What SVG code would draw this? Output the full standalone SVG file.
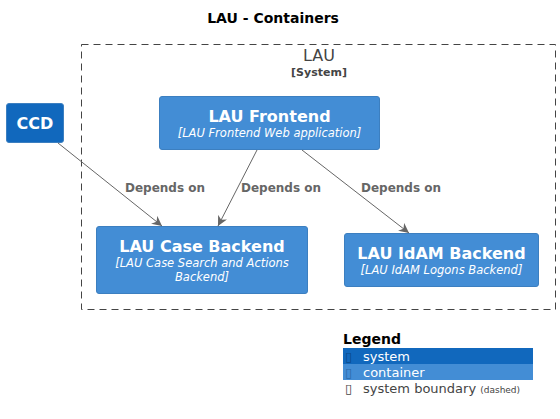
<svg xmlns="http://www.w3.org/2000/svg" width="560" height="419" viewBox="0 0 560 419">
<style>
text{font-family:"DejaVu Sans","Liberation Sans",sans-serif}
.t{font-size:16px;font-weight:bold;fill:#fff;text-anchor:middle}
.s{font-size:11.5px;font-style:italic;fill:#fff;text-anchor:middle}
.lbl{font-size:12px;font-weight:bold;fill:#666}
.edge{stroke:#666;stroke-width:1;fill:none}
.cont{fill:#438dd5;stroke:#3c7fc0;stroke-width:1}
.sys{fill:#1168bd;stroke:#3c7fc0;stroke-width:1}
.leg{font-size:13px}
</style>
<defs>
<marker id="ah" viewBox="0 0 10 10" refX="10" refY="5" markerWidth="10" markerHeight="10" markerUnits="userSpaceOnUse" orient="auto">
<path d="M0,0 L10,5 L0,10 L3,5 Z" fill="#666"/>
</marker>
</defs>
<rect width="560" height="419" fill="#fff"/>
<text x="273" y="23" text-anchor="middle" style="font-size:14px;font-weight:bold;fill:#000">LAU - Containers</text>
<g id="boundary">
<rect x="81.5" y="44.5" width="474" height="265" fill="none" stroke="#444" stroke-width="1" stroke-dasharray="7,5"/>
<text x="319" y="61" text-anchor="middle" style="font-size:16px;fill:#444">LAU</text>
<text x="319" y="76" text-anchor="middle" style="font-size:11px;font-weight:bold;fill:#444">[System]</text>
</g>
<g id="ccd">
<rect class="sys" x="6.5" y="103.5" width="57" height="39" rx="2.5"/>
<text class="t" x="35" y="129">CCD</text>
</g>
<g id="frontend">
<rect class="cont" x="159.5" y="96.5" width="220" height="53" rx="2.5"/>
<text class="t" x="269.5" y="122">LAU Frontend</text>
<text class="s" x="269.5" y="137">[LAU Frontend Web application]</text>
</g>
<g id="case">
<rect class="cont" x="96.5" y="226.5" width="211" height="67" rx="2.5"/>
<text class="t" x="202" y="252">LAU Case Backend</text>
<text class="s" x="202" y="267">[LAU Case Search and Actions</text>
<text class="s" x="202" y="281">Backend]</text>
</g>
<g id="idam">
<rect class="cont" x="344.5" y="233.5" width="194" height="53" rx="2.5"/>
<text class="t" x="441.5" y="259">LAU IdAM Backend</text>
<text class="s" x="441.5" y="274">[LAU IdAM Logons Backend]</text>
</g>
<g id="connectors">
<line class="edge" x1="58" y1="143" x2="162" y2="226" marker-end="url(#ah)"/>
<line class="edge" x1="257" y1="150" x2="218" y2="226" marker-end="url(#ah)"/>
<line class="edge" x1="302" y1="150" x2="409" y2="233" marker-end="url(#ah)"/>
<text class="lbl" x="125" y="192">Depends on</text>
<text class="lbl" x="241" y="192">Depends on</text>
<text class="lbl" x="361" y="192">Depends on</text>
</g>
<g id="legend">
<text x="343" y="344" style="font-size:14px;font-weight:bold;fill:#000">Legend</text>
<rect x="343" y="348" width="190" height="16" fill="#1168bd"/>
<rect x="343" y="364" width="190" height="16" fill="#438dd5"/>
<text class="leg" x="345" y="361" style="fill:#0a4a8c">▯</text>
<text class="leg" x="363" y="361" style="fill:#fff">system</text>
<text class="leg" x="345" y="377" style="fill:#2a6aaa">▯</text>
<text class="leg" x="363" y="377" style="fill:#fff">container</text>
<text class="leg" x="345" y="393" style="fill:#444">▯</text>
<text class="leg" x="363" y="393" style="fill:#444">system boundary <tspan style="font-size:9px">(dashed)</tspan></text>
</g>
</svg>
